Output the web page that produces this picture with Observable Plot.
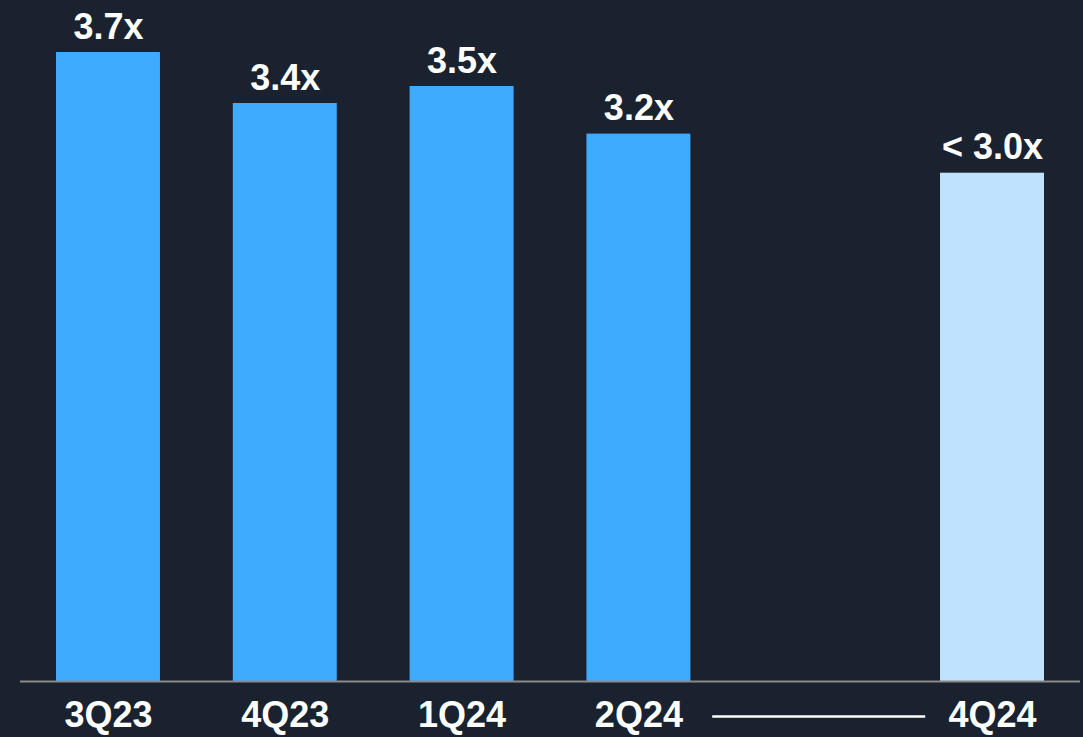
<!DOCTYPE html>
<html>
<head>
<meta charset="utf-8">
<script src="https://cdn.jsdelivr.net/npm/d3@7"></script>
<script src="https://cdn.jsdelivr.net/npm/@observablehq/plot@0.6"></script>
<style>
  html, body { margin: 0; padding: 0; background: #19222e; }
  #chart { width: 1083px; height: 737px; overflow: hidden; }
</style>
</head>
<body>
<div id="chart"></div>
<script>
const quarters = ["3Q23", "4Q23", "1Q24", "2Q24", "3Q24", "4Q24"];
const barQuarters = ["3Q23", "4Q23", "1Q24", "2Q24", "4Q24"];
const leverage = [3.7, 3.4, 3.5, 3.22, 2.99];
const valueLabels = ["3.7x", "3.4x", "3.5x", "3.2x", "< 3.0x"];
const isTarget = [false, false, false, false, true];
const connectorQuarter = ["3Q24"];

const bars = barQuarters.map((q, i) => ({q, v: leverage[i], label: valueLabels[i], target: isTarget[i]}));

const chart = Plot.plot({
  width: 1083,
  height: 737,
  marginLeft: 20,
  marginRight: 3,
  marginTop: 1,
  marginBottom: 56,
  style: {background: "#19222e", color: "#ffffff", fontFamily: "'Liberation Sans', Arial, sans-serif"},
  x: {domain: quarters, range: [20, 1080], paddingInner: 0.412, paddingOuter: 0.2036, round: false, label: null},
  y: {domain: [0, 4], axis: null},
  marks: [
    Plot.barY(bars, {x: "q", y: "v", fill: d => d.target ? "#bfe3ff" : "#3fabff"}),
    Plot.ruleY([0], {stroke: "#8a8a8a", strokeWidth: 2}),
    Plot.text(bars, {x: "q", y: "v", text: "label", lineAnchor: "bottom", dy: -14,
      fill: "#ffffff", fontSize: 36, fontWeight: "bold"}),
    Plot.axisX({tickSize: 0, tickPadding: 20, fontSize: 36, fontWeight: "bold", fill: "#ffffff",
      tickFormat: d => connectorQuarter.includes(d) ? "" : d, label: null}),
    Plot.tickY(connectorQuarter, {x: d => d, y: 0, dy: 35, stroke: "#ffffff", strokeWidth: 2.5,
      insetLeft: -51, insetRight: -58})
  ]
});
document.getElementById("chart").appendChild(chart);
</script>
</body>
</html>
